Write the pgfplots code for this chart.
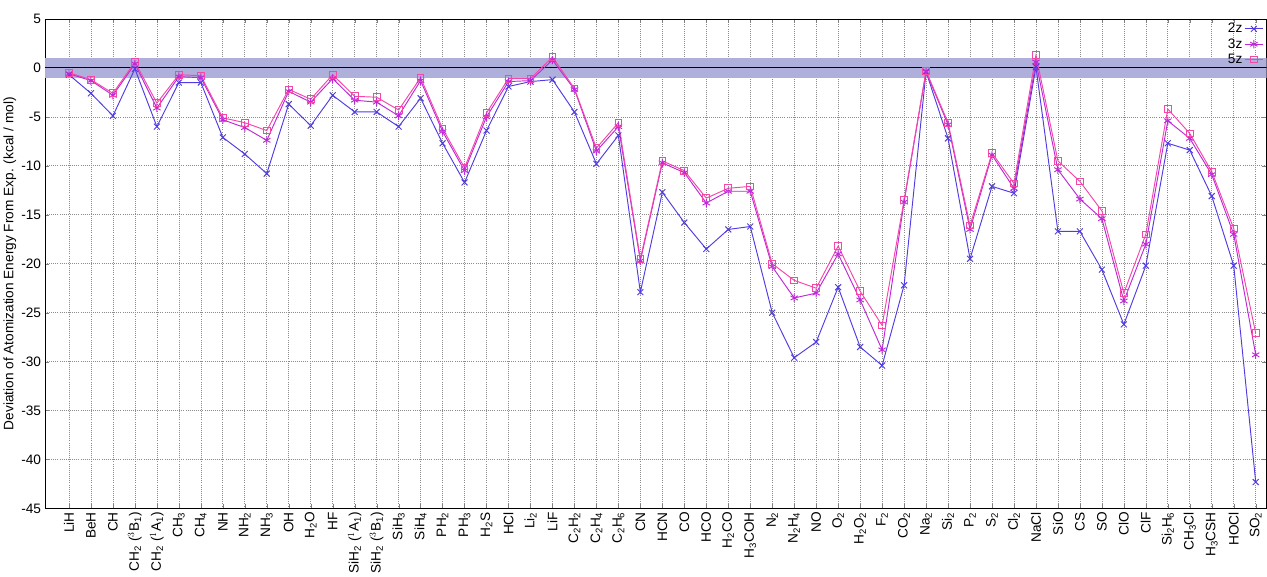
\documentclass[border=0pt]{standalone}
\usepackage{pgfplots}
\pgfplotsset{compat=1.18}
\usepackage{fontspec}
\setmainfont{Liberation Sans}
\definecolor{cA}{RGB}{80,60,225}
\definecolor{cB}{RGB}{190,40,215}
\definecolor{cC}{RGB}{245,70,170}
\definecolor{band}{RGB}{175,175,220}
\newcommand{\s}[1]{\textsubscript{#1}}
\begin{document}
\begin{tikzpicture}
\begin{axis}[
  scale only axis, width=1163pt, height=466pt,
  xmin=-1.1, xmax=54.5, ymin=-45, ymax=5,
  ytick={-45,-40,...,5},
  xtick={0,...,54},
  xticklabels={LiH,BeH,CH,CH\s2 ($^3$B\s1),CH\s2 ($^1$A\s1),CH\s3,CH\s4,NH,NH\s2,NH\s3,OH,H\s2O,HF,SiH\s2 ($^1$A\s1),SiH\s2 ($^3$B\s1),SiH\s3,SiH\s4,PH\s2,PH\s3,H\s2S,HCl,Li\s2,LiF,C\s2H\s2,C\s2H\s4,C\s2H\s6,CN,HCN,CO,HCO,H\s2CO,H\s3COH,N\s2,N\s2H\s4,NO,O\s2,H\s2O\s2,F\s2,CO\s2,Na\s2,Si\s2,P\s2,S\s2,Cl\s2,NaCl,SiO,CS,SO,ClO,ClF,Si\s2H\s6,CH\s3Cl,H\s3CSH,HOCl,SO\s2},
  xticklabel style={rotate=90, anchor=east, font=\fontsize{13}{15}\selectfont},
  yticklabel style={font=\fontsize{13}{15}\selectfont},
  /pgf/number format/assume math mode=true,
  grid=major, grid style={black!45, dash pattern=on 0.8pt off 1.2pt, line width=0.6pt},
  tick align=inside,
  ylabel={Deviation of Atomization Energy From Exp. (kcal / mol)},
  ylabel style={font=\fontsize{13}{15}\selectfont, yshift=-2pt},
  legend style={at={(1,1)}, anchor=north east, draw=none, fill=none, font=\fontsize{13}{15}\selectfont, legend cell align=right},
  legend plot pos=right,
  every axis plot/.append style={line width=0.9pt},
]
\fill[band] (axis cs:-1.1,-1) rectangle (axis cs:54.5,1);
\draw[black, line width=0.8pt] (axis cs:-1.1,0) -- (axis cs:54.5,0);
\addplot[cA, mark=x, mark size=4pt] coordinates {
(0,-0.7)(1,-2.6)(2,-4.9)(3,-0.1)(4,-6.0)(5,-1.5)(6,-1.5)(7,-7.1)(8,-8.8)(9,-10.8)
(10,-3.7)(11,-5.9)(12,-2.8)(13,-4.5)(14,-4.5)(15,-6.0)(16,-3.1)(17,-7.7)(18,-11.7)(19,-6.4)
(20,-1.9)(21,-1.4)(22,-1.2)(23,-4.5)(24,-9.8)(25,-6.9)(26,-22.9)(27,-12.7)(28,-15.8)(29,-18.5)
(30,-16.5)(31,-16.2)(32,-25.0)(33,-29.6)(34,-28.0)(35,-22.4)(36,-28.5)(37,-30.4)(38,-22.2)(39,-0.4)
(40,-7.2)(41,-19.5)(42,-12.1)(43,-12.8)(44,0.1)(45,-16.7)(46,-16.7)(47,-20.6)(48,-26.2)(49,-20.2)
(50,-7.7)(51,-8.4)(52,-13.1)(53,-20.2)(54,-42.3)};
\addlegendentry{2z}
\addplot[cB, mark=asterisk, mark size=4pt] coordinates {
(0,-0.6)(1,-1.3)(2,-2.8)(3,0.4)(4,-4.1)(5,-0.9)(6,-1.0)(7,-5.3)(8,-6.1)(9,-7.4)
(10,-2.4)(11,-3.5)(12,-1.1)(13,-3.3)(14,-3.5)(15,-4.9)(16,-1.3)(17,-6.5)(18,-10.5)(19,-5.0)
(20,-1.4)(21,-1.3)(22,0.8)(23,-2.2)(24,-8.5)(25,-6.0)(26,-19.7)(27,-9.7)(28,-10.7)(29,-13.8)
(30,-12.6)(31,-12.6)(32,-20.3)(33,-23.5)(34,-23.0)(35,-19.0)(36,-23.7)(37,-28.8)(38,-13.7)(39,-0.4)
(40,-5.8)(41,-16.5)(42,-8.9)(43,-12.3)(44,0.6)(45,-10.4)(46,-13.4)(47,-15.4)(48,-23.8)(49,-18.0)
(50,-5.4)(51,-7.2)(52,-10.9)(53,-17.0)(54,-29.3)};
\addlegendentry{3z}
\addplot[cC, mark=square, mark size=3.2pt, mark options={solid}] coordinates {
(0,-0.5)(1,-1.2)(2,-2.6)(3,0.6)(4,-3.6)(5,-0.7)(6,-0.8)(7,-5.1)(8,-5.6)(9,-6.4)
(10,-2.2)(11,-3.2)(12,-0.7)(13,-2.9)(14,-3.0)(15,-4.3)(16,-1.0)(17,-6.2)(18,-10.2)(19,-4.6)
(20,-1.1)(21,-1.1)(22,1.1)(23,-2.1)(24,-8.2)(25,-5.6)(26,-19.5)(27,-9.5)(28,-10.5)(29,-13.3)
(30,-12.3)(31,-12.1)(32,-20.0)(33,-21.7)(34,-22.5)(35,-18.2)(36,-22.8)(37,-26.3)(38,-13.5)(39,-0.3)
(40,-5.6)(41,-16.1)(42,-8.7)(43,-11.8)(44,1.3)(45,-9.5)(46,-11.6)(47,-14.6)(48,-23.0)(49,-17.0)
(50,-4.2)(51,-6.7)(52,-10.6)(53,-16.4)(54,-27.1)};
\addlegendentry{5z}
\end{axis}
\path ([yshift=18pt]current axis.north);
\end{tikzpicture}
\end{document}
